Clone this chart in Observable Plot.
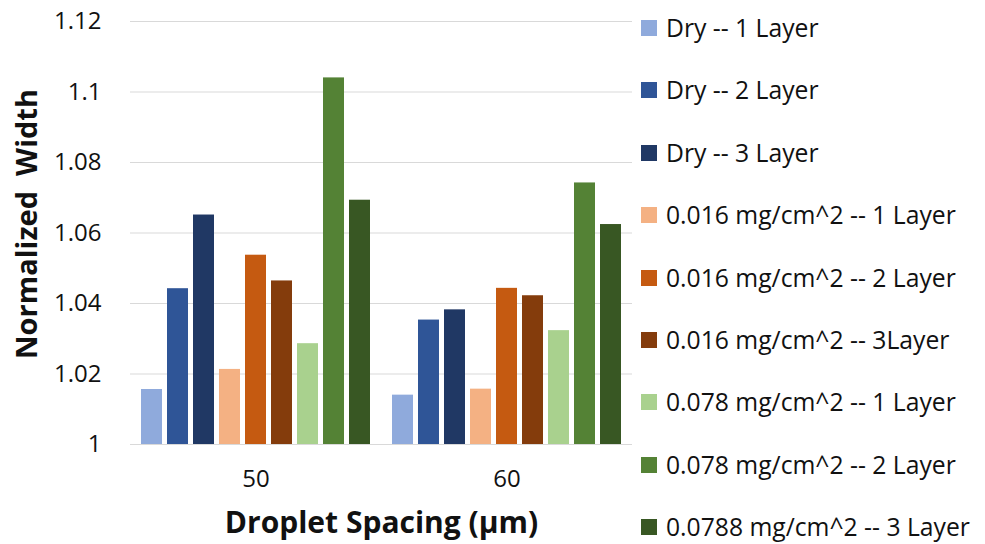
<!DOCTYPE html>
<html><head><meta charset="utf-8">
<script src="https://cdn.jsdelivr.net/npm/d3@7"></script>
<script src="https://cdn.jsdelivr.net/npm/@observablehq/plot@0.6"></script>
<style>
body{margin:0;background:#fff;font-family:"Open Sans",sans-serif;}
#wrap{position:relative;width:985px;height:544px;overflow:hidden;}
#chart{position:absolute;left:0;top:0;}
#ytitle{position:absolute;left:-174px;top:204px;width:400px;height:40px;line-height:40px;text-align:center;transform:rotate(-90deg);font-size:29px;font-weight:bold;color:#111;white-space:pre;}
#legend{position:absolute;left:641px;top:0;}
.row{position:absolute;left:0;height:30px;line-height:30px;display:flex;align-items:center;white-space:nowrap;font-size:24.7px;color:#111;}
.sw{width:16px;height:16px;margin-right:9px;flex:none;}
</style></head><body><div id="wrap"><div id="chart"></div><div id="ytitle"></div><div id="legend"></div></div>
<script>
const spacings = ["50", "60"];
const series = [
  "Dry -- 1 Layer", "Dry -- 2 Layer", "Dry -- 3 Layer",
  "0.016 mg/cm^2 -- 1 Layer", "0.016 mg/cm^2 -- 2 Layer", "0.016 mg/cm^2 -- 3Layer",
  "0.078 mg/cm^2 -- 1 Layer", "0.078 mg/cm^2 -- 2 Layer", "0.0788 mg/cm^2 -- 3 Layer"
];
const colors = ["#8faadc", "#2f5597", "#203864", "#f4b183", "#c55a11", "#843c0c", "#a9d18e", "#548235", "#385723"];
const values50 = [1.0156, 1.0442, 1.0651, 1.0213, 1.0537, 1.0464, 1.0286, 1.1040, 1.0693];
const values60 = [1.0140, 1.0353, 1.0382, 1.0157, 1.0443, 1.0422, 1.0323, 1.0742, 1.0624];
const yTicks = [1, 1.02, 1.04, 1.06, 1.08, 1.1, 1.12];
const xTitle = "Droplet Spacing (\u03bcm)";
const yTitle = "Normalized  Width";

const valuesBySpacing = [values50, values60];
const data = spacings.flatMap((s, i) => series.map((name, j) => ({spacing: s, series: name, value: valuesBySpacing[i][j]})));

const chart = Plot.plot({
  width: 640, height: 544,
  marginLeft: 129, marginRight: 8, marginTop: 21, marginBottom: 100,
  style: {fontFamily: "'Open Sans', sans-serif", color: "#111", background: "transparent"},
  fx: {domain: spacings, padding: 0, label: null},
  x: {domain: series, axis: null, paddingInner: 0.2, paddingOuter: 0.4},
  y: {domain: [1, 1.12]},
  color: {domain: series, range: colors},
  marks: [
    Plot.gridY(yTicks, {stroke: "#d9d9d9", strokeOpacity: 1, strokeWidth: 1}),
    Plot.barY(data, {fx: "spacing", x: "series", y1: d => 1, y2: "value", fill: "series"}),
    Plot.axisY(yTicks, {tickSize: 0, tickPadding: 29, fontSize: 24, label: null, tickFormat: d => String(+d.toFixed(2))}),
    Plot.axisFx({anchor: "bottom", tickSize: 0, tickPadding: 25, fontSize: 24, label: null}),
    Plot.text([xTitle], {facet: "super", frameAnchor: "bottom", dy: 79, lineAnchor: "middle", fontSize: 30, fontWeight: "bold", fill: "#111"})
  ]
});
document.getElementById("chart").appendChild(chart);
document.getElementById("ytitle").textContent = yTitle;

const legend = document.getElementById("legend");
series.forEach((name, i) => {
  const row = document.createElement("div");
  row.className = "row";
  row.style.top = (28 + i * 62.4 - 15) + "px";
  const sw = document.createElement("span");
  sw.className = "sw";
  sw.style.background = colors[i];
  const t = document.createElement("span");
  t.textContent = name;
  row.appendChild(sw); row.appendChild(t);
  legend.appendChild(row);
});
</script></body></html>
